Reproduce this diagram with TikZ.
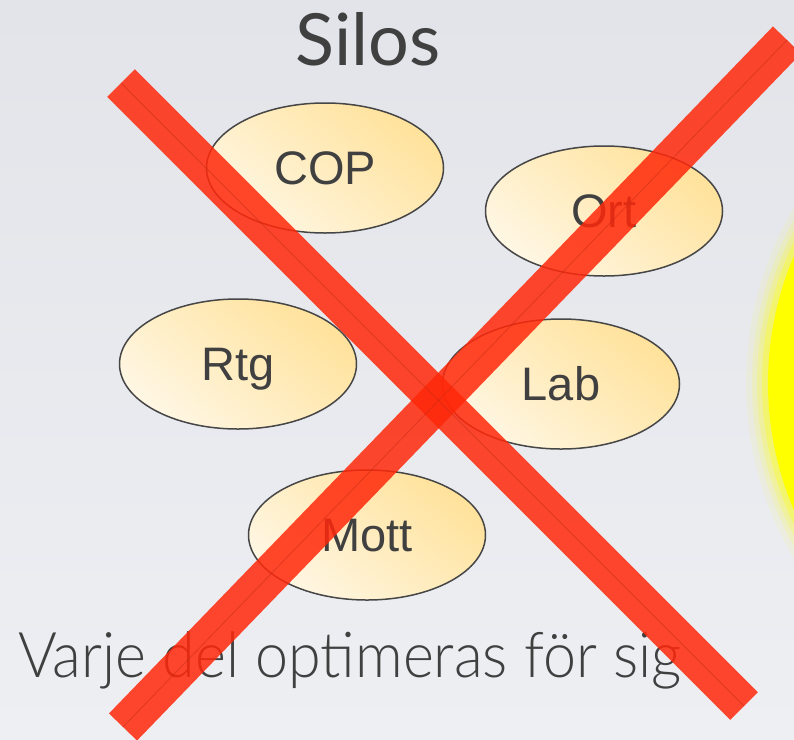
\documentclass[tikz,border=0pt]{standalone}
\usepackage{fontspec}
\usepackage{graphicx}
\usetikzlibrary{shapes.geometric}
\setmainfont{Lato}
\newfontfamily\arialfont{Liberation Sans}
\newfontfamily\lightfont{Lato}[UprightFont={* Light}]

\definecolor{bgtop}{RGB}{226,228,233}
\definecolor{bgbot}{RGB}{238,239,243}
\definecolor{xred}{RGB}{255,40,10}
\definecolor{xseam}{RGB}{190,40,20}
\definecolor{ovalhi}{RGB}{255,226,155}
\definecolor{ovallo}{RGB}{255,247,228}
\definecolor{ovalline}{RGB}{70,70,70}
\definecolor{inkgrey}{RGB}{64,64,64}
\definecolor{sunyellow}{RGB}{255,255,0}

\tikzset{
  silo/.style={ellipse, draw=ovalline, line width=1.5pt,
    minimum width=237pt, minimum height=130pt,
    top color=ovalhi, bottom color=ovallo, shading angle=-40,
    font=\arialfont\fontsize{47}{47}\selectfont, text=inkgrey,
    text height=33pt, text depth=0pt, inner sep=0pt},
  crossbar/.style={line width=39pt, draw=xred, draw opacity=0.85},
  crossseam/.style={line width=0.8pt, draw=xseam, draw opacity=0.45}
}

\begin{document}
\begin{tikzpicture}[x=1pt,y=-1pt]
      \useasboundingbox (0,0) rectangle (794,739);
      \clip (0,0) rectangle (794,739);
      \shade[top color=bgtop, bottom color=bgbot] (0,0) rectangle (794,739);

      \foreach \r/\o in {345/0.07, 339/0.12, 334/0.18, 329/0.3}
        \fill[sunyellow, opacity=\o] (1091,383) circle [radius=\r];
      \fill[sunyellow] (1091,383) circle [radius=323];

      \node[silo] (cop) at (325,168) {COP};
      \node[silo] (ort) at (604,211) {Ort};
      \node[silo] (rtg) at (238,364) {Rtg};
      \node[silo] (lab) at (561,384) {Lab};
      \node[silo] (mott) at (367,535) {Mott};

      \node[font=\fontsize{72}{72}\selectfont, text=inkgrey, anchor=base, inner sep=0pt] (title) at (368,65) {Silos};
      \node[font=\lightfont\fontsize{63}{63}\selectfont, text=inkgrey, anchor=base west, inner sep=0pt] (caption) at (18,677)
        {\scalebox{0.94}[1]{Varje del optimeras för sig}};

      \coordinate (nwEnd) at (121,83);
      \coordinate (seEnd) at (744,706);
      \coordinate (neEnd) at (787,40);
      \coordinate (swEnd) at (123,727);
      \draw[crossbar] (nwEnd) -- (seEnd);
      \draw[crossbar] (neEnd) -- (swEnd);
      \draw[crossseam] (nwEnd) -- (seEnd);
      \draw[crossseam] (neEnd) -- (swEnd);
\end{tikzpicture}
\end{document}
